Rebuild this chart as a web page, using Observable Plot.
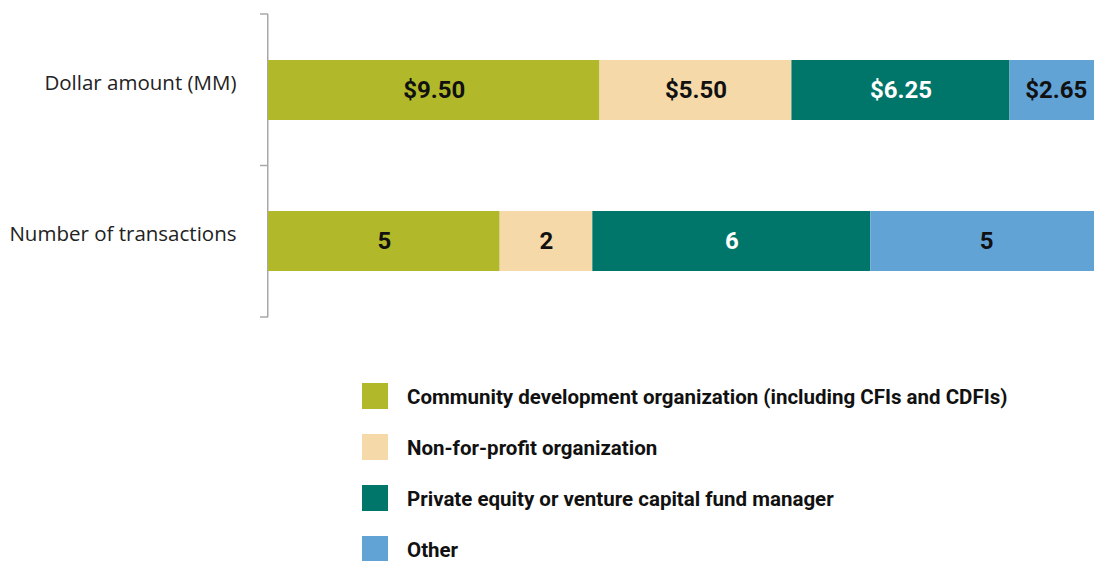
<!DOCTYPE html>
<html>
<head>
<meta charset="utf-8">
<script src="https://cdn.jsdelivr.net/npm/d3@7"></script>
<script src="https://cdn.jsdelivr.net/npm/@observablehq/plot@0.6"></script>
<style>
  html, body { margin: 0; padding: 0; background: #fff; }
  #chart svg { display: block; }
  .legend { margin-top: 43px; padding-left: 362px; font-family: Roboto, sans-serif; font-weight: 700; font-size: 20.5px; color: #111; }
  .legend .row { display: flex; align-items: center; height: 26px; margin-bottom: 25px; }
  .legend .sw { width: 26px; height: 26px; margin-right: 19px; flex: none; }
  .legend span { position: relative; top: 1px; line-height: 24px; }
</style>
</head>
<body>
<div id="chart"></div>
<div class="legend" id="legend"></div>
<script>
const measures = ["Dollar amount (MM)", "Number of transactions"];
const categories = [
  "Community development organization (including CFIs and CDFIs)",
  "Non-for-profit organization",
  "Private equity or venture capital fund manager",
  "Other"
];
const dollarAmounts = [9.50, 5.50, 6.25, 2.65];
const transactionCounts = [5, 2, 6, 5];
const palette = ["#b1b92a", "#f6d9a8", "#00756a", "#62a3d6"];

const rows = [];
categories.forEach((c, i) => {
  rows.push({measure: measures[0], category: c, value: dollarAmounts[i], label: "$" + dollarAmounts[i].toFixed(2)});
  rows.push({measure: measures[1], category: c, value: transactionCounts[i], label: String(transactionCounts[i])});
});

const stackOpts = {x: "value", y: "measure", offset: "normalize", order: categories};
const darkCat = categories[2];

const axisTicks = (index, scales, values, dimensions) => {
  const {height, marginTop, marginBottom, marginLeft} = dimensions;
  const top = marginTop, bottom = height - marginBottom, mid = (top + bottom) / 2;
  const g = d3.create("svg:g").attr("stroke", "#a8a8a8").attr("stroke-width", 1.5);
  [top, mid, bottom].forEach(y => {
    g.append("line").attr("x1", marginLeft - 8).attr("x2", marginLeft).attr("y1", y).attr("y2", y);
  });
  return g.node();
};

const labelStyle = {fontSize: 24, fontWeight: 700, fontFamily: "Roboto, sans-serif"};

const chart = Plot.plot({
  width: 1094,
  height: 340,
  marginLeft: 268,
  marginRight: -8,
  marginTop: 14,
  marginBottom: 23,
  style: {fontFamily: "'Open Sans', sans-serif", background: "#fff"},
  x: {axis: null},
  y: {domain: measures, paddingInner: 0.6, paddingOuter: 0.3, label: null},
  color: {domain: categories, range: palette},
  marks: [
    Plot.axisY({tickSize: 0, tickPadding: 32, fontSize: 20.5, dy: -7, fill: "#222", label: null}),
    Plot.ruleX([0], {stroke: "#a8a8a8", strokeWidth: 1.5, dx: -0.75}),
    axisTicks,
    Plot.barX(rows, Plot.stackX({...stackOpts, fill: "category"})),
    Plot.text(rows, Plot.stackX({...stackOpts, z: "category",
      text: d => d.category !== darkCat ? d.label : "", fill: "#111", ...labelStyle})),
    Plot.text(rows, Plot.stackX({...stackOpts, z: "category",
      text: d => d.category === darkCat ? d.label : "", fill: "#fff", ...labelStyle}))
  ]
});
document.getElementById("chart").append(chart);

const legend = d3.select("#legend");
categories.forEach((c, i) => {
  const row = legend.append("div").attr("class", "row");
  row.append("div").attr("class", "sw").style("background", palette[i]);
  row.append("span").text(c);
});
</script>
</body>
</html>
